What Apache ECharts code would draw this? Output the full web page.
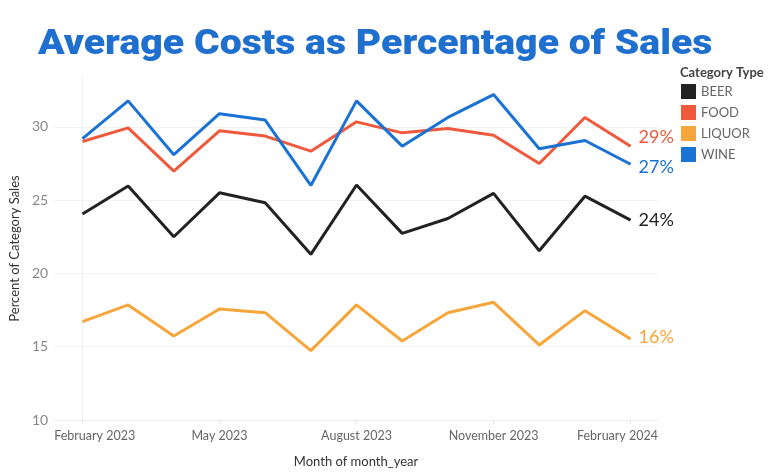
<!DOCTYPE html>
<html>
<head>
<meta charset="utf-8">
<script src="https://cdn.jsdelivr.net/npm/echarts@6/dist/echarts.min.js"></script>
<style>html,body{margin:0;padding:0;background:#fff;}#c{width:768px;height:476px;}</style>
</head>
<body>
<div id="c"></div>
<script>
const months = ['February 2023','March 2023','April 2023','May 2023','June 2023','July 2023','August 2023','September 2023','October 2023','November 2023','December 2023','January 2024','February 2024'];
const beer   = [24.05, 25.96, 22.5, 25.5, 24.82, 21.3, 26.03, 22.73, 23.75, 25.46, 21.55, 25.27, 23.64];
const food   = [29.0, 29.93, 26.98, 29.73, 29.37, 28.34, 30.34, 29.59, 29.89, 29.43, 27.5, 30.64, 28.68];
const liquor = [16.71, 17.85, 15.73, 17.57, 17.32, 14.73, 17.85, 15.39, 17.32, 18.03, 15.12, 17.46, 15.53];
const wine   = [29.2, 31.77, 28.1, 30.9, 30.46, 26.0, 31.77, 28.68, 30.64, 32.2, 28.5, 29.07, 27.45];
const yTicks = [10, 15, 20, 25, 30];
const xTickIdx = [0, 3, 6, 9, 12];

const seriesDefs = [
  {name: 'BEER', data: beer, color: '#222222', off: [0, 0]},
  {name: 'FOOD', data: food, color: '#ef5a3d', off: [0, -9]},
  {name: 'LIQUOR', data: liquor, color: '#f7a63b', off: [0, -2]},
  {name: 'WINE', data: wine, color: '#1a72d4', off: [0, 3]}
];

const X_MIN = -0.62, X_MAX = 12.6;
const chart = echarts.init(document.getElementById('c'));
const font = 'Lato';
chart.setOption({
  animation: false,
  backgroundColor: '#fff',
  graphic: [{
    type: 'text', x: 38, y: 45, scaleX: 1.12, scaleY: 1,
    style: {text: 'Average Costs as Percentage of Sales', x: 0, y: 0, align: 'left', verticalAlign: 'middle',
      fontFamily: 'Roboto', fontWeight: 900, fontSize: 35, fill: '#1f6fcf'}
  }, {
    type: 'text', x: 680, y: 73,
    style: {text: 'Category Type', x: 0, y: 0, verticalAlign: 'middle', fontFamily: font, fontWeight: 'bold', fontSize: 13, fill: '#444'}
  }],
  legend: {
    orient: 'vertical', left: 681, top: 84, padding: 0,
    icon: 'rect', itemWidth: 15, itemHeight: 15, itemGap: 6,
    textStyle: {fontFamily: font, fontSize: 13, color: '#666'},
    data: seriesDefs.map(s => s.name)
  },
  grid: {left: 48, right: 110, top: 77, bottom: 56},
  xAxis: {
    type: 'value', min: X_MIN, max: X_MAX,
    name: 'Month of month_year', nameLocation: 'middle', nameGap: 35,
    nameTextStyle: {fontFamily: font, fontSize: 13, color: '#333'},
    axisLine: {show: true, lineStyle: {color: '#eeeeee'}},
    axisTick: {show: true, customValues: xTickIdx, length: 4, lineStyle: {color: '#e6e6e6'}},
    axisLabel: {
      customValues: [X_MIN, 3, 6, 9, X_MAX],
      alignMinLabel: 'left', alignMaxLabel: 'right',
      formatter: v => months[Math.max(0, Math.min(12, Math.round(v)))],
      fontFamily: font, fontSize: 12.5, color: '#666', margin: 9
    },
    splitLine: {show: false}
  },
  yAxis: {
    type: 'value', min: 10, max: 33.4,
    name: 'Percent of Category Sales', nameLocation: 'middle', nameRotate: 90, nameGap: 27,
    nameTextStyle: {fontFamily: font, fontSize: 13, color: '#333'},
    axisLine: {show: true, lineStyle: {color: '#f0f0f0'}},
    axisTick: {show: false, customValues: yTicks},
    axisLabel: {customValues: yTicks, fontFamily: font, fontSize: 14, color: '#888', margin: 6},
    splitLine: {show: true, lineStyle: {color: '#f2f2f2'}}
  },
  series: seriesDefs.map(s => ({
    name: s.name, type: 'line',
    data: s.data.map((v, i) => [i, v]),
    symbol: 'none',
    color: s.color,
    lineStyle: {width: 3, color: s.color},
    endLabel: {
      show: true, distance: 8, offset: s.off,
      formatter: p => Math.round(p.value[1]) + '%',
      fontFamily: font, fontSize: 18, color: s.color
    }
  }))
});
</script>
</body>
</html>
